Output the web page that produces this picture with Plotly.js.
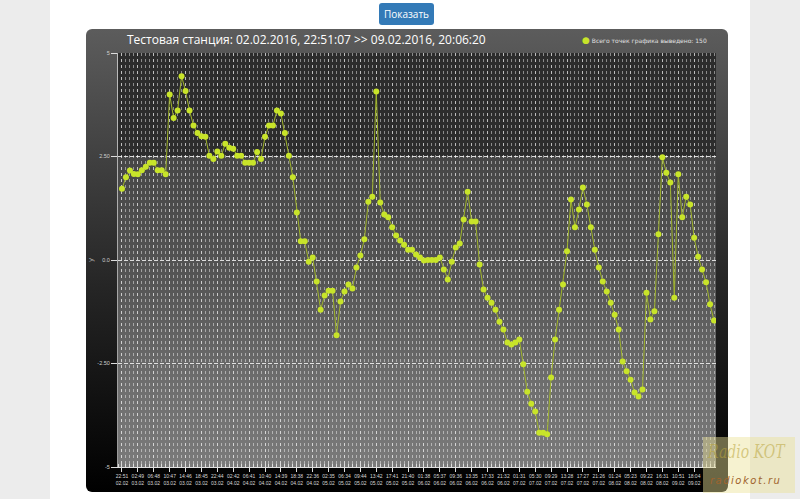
<!DOCTYPE html>
<html>
<head>
<meta charset="utf-8">
<script src="https://cdn.plot.ly/plotly-3.0.1.min.js"></script>
<style>
  html, body { margin:0; padding:0; width:800px; height:499px; overflow:hidden; }
  body { background:#ececec; position:relative; font-family:"Open Sans", "Liberation Sans", sans-serif; }
  #page { position:absolute; left:50px; top:0; width:700px; height:499px; background:#ffffff; }
  #btn { position:absolute; left:379px; top:3px; width:55px; height:22px; background:#337ab7; border-radius:3px;
         color:#fff; font-size:10px; line-height:22px; text-align:center; font-family:"Open Sans", sans-serif; }
  #box { position:absolute; left:86px; top:29px; width:642px; height:463px; border-radius:6px;
         background:linear-gradient(to bottom, #5c5c5c 0%, #262626 55%, #000 100%); }
  #plotbg { position:absolute; left:118px; top:53px; width:598px; height:414px;
         background:linear-gradient(to bottom, #2c2c2c 0%, #2c2c2c 25%, #464646 25%, #555 55%, #6e6e6e 80%, #7a7a7a 100%); }
  #chart { position:absolute; left:0; top:0; width:800px; height:499px; }
  #wm { position:absolute; left:703px; top:437px; width:92px; height:56px; background:rgba(236,226,150,0.45); overflow:hidden; }
  #wm .a { position:absolute; left:5px; top:4px; font-family:"DejaVu Serif", serif; font-style:italic; font-size:18px;
           color:rgba(185,165,60,0.55); transform:scaleX(0.78); transform-origin:left; white-space:nowrap; }
  #wm .b { position:absolute; left:7px; top:38px; font-family:"DejaVu Sans", sans-serif; font-style:italic; font-size:10px;
           color:#a0642e; letter-spacing:1.5px; white-space:nowrap; }
</style>
</head>
<body>
<div id="page"></div>
<div id="btn">Показать</div>
<div id="box"></div>
<div id="plotbg"></div>
<div id="chart"></div>
<div id="wm"><div class="a">Radio KOT</div><div class="b">radiokot.ru</div></div>
<script>
// ---- data ----
const titleText = 'Тестовая станция: 02.02.2016, 22:51:07 >> 09.02.2016, 20:06:20';
const legendText = 'Всего точек графика выведено: 150';
const yTitle = 'y';

const values = [
  1.72, 2.00, 2.16, 2.08, 2.07, 2.17, 2.25, 2.35, 2.35, 2.17,
  2.17, 2.07, 4.00, 3.43, 3.61, 4.44, 4.08, 3.61, 3.25, 3.07,
  2.99, 2.98, 2.52, 2.44, 2.62, 2.52, 2.81, 2.71, 2.69, 2.52,
  2.52, 2.35, 2.35, 2.35, 2.61, 2.44, 2.98, 3.25, 3.25, 3.61,
  3.54, 3.07, 2.52, 2.00, 1.15, 0.45, 0.45, -0.04, 0.06, -0.52,
  -1.20, -0.86, -0.74, -0.74, -1.82, -1.00, -0.76, -0.59, -0.69, -0.18,
  0.11, 0.50, 1.41, 1.53, 4.07, 1.39, 1.10, 1.03, 0.79, 0.59,
  0.47, 0.37, 0.25, 0.25, 0.13, 0.06, -0.01, 0.00, 0.00, 0.00,
  0.06, -0.23, -0.47, -0.04, 0.30, 0.40, 0.98, 1.65, 0.93, 0.93,
  -0.11, -0.71, -0.91, -1.03, -1.20, -1.49, -1.68, -1.99, -2.04, -1.99,
  -1.92, -2.52, -3.18, -3.47, -3.66, -4.17, -4.17, -4.21, -2.84, -1.92,
  -1.20, -0.59, 0.21, 1.46, 0.79, 1.22, 1.75, 1.34, 0.79, 0.25,
  -0.18, -0.52, -0.76, -1.03, -1.32, -1.68, -2.45, -2.69, -2.89, -3.20,
  -3.30, -3.13, -0.79, -1.44, -1.24, 0.62, 2.48, 2.11, 1.87, -0.91,
  2.07, 1.03, 1.53, 1.34, 0.54, 0.08, -0.23, -0.54, -1.07, -1.46
];

const tickTimes = [
  '22:51','02:49','06:48','10:47','14:46','18:45','22:44','02:42','06:41','10:40',
  '14:39','18:38','22:36','02:35','06:34','09:44','13:42','17:41','21:40','01:38',
  '05:37','09:36','13:35','17:33','21:32','01:31','05:30','09:29','13:28','17:27',
  '21:26','01:24','05:23','09:22','16:31','10:51','18:04'
];
const tickDates = [
  '02.02','03.02','03.02','03.02','03.02','03.02','03.02','04.02','04.02','04.02',
  '04.02','04.02','04.02','05.02','05.02','05.02','05.02','05.02','05.02','06.02',
  '06.02','06.02','06.02','06.02','06.02','07.02','07.02','07.02','07.02','07.02',
  '07.02','08.02','08.02','08.02','08.02','09.02','09.02'
];
const yTickVals = [-5, -2.5, 0, 2.5, 5];
const yTickText = ['-5', '-2.50', '0.0', '2.50', '5'];

// ---- build ----
const xIdx = values.map((v, i) => i);
const labelStep = 4;
const tickVals = tickTimes.map((t, k) => k * labelStep);
const tickText = tickTimes.map((t, k) => t + '<br>' + tickDates[k]);

const traces = [
  {
    x: xIdx, y: values, type: 'scatter', mode: 'lines+markers',
    line: { color: '#9fb42a', width: 1 },
    marker: { color: '#c8e42a', size: 6, line: { width: 0 } },
    showlegend: false, hoverinfo: 'x+y'
  }
];

const layout = {
  width: 800, height: 499,
  paper_bgcolor: 'rgba(0,0,0,0)', plot_bgcolor: 'rgba(0,0,0,0)',
  margin: { l: 118, r: 84, t: 53, b: 32, pad: 0 },
  showlegend: false,
  title: {
    text: titleText, xref: 'container', yref: 'container',
    x: 127 / 800, xanchor: 'left', y: 1 - 40 / 499, yanchor: 'middle',
    font: { family: 'Open Sans, sans-serif', size: 12, color: '#ffffff' }
  },
  xaxis: {
    range: [-1, 149.5], autorange: false, zeroline: false,
    tickmode: 'array', tickvals: tickVals, ticktext: tickText,
    tickfont: { family: 'Liberation Sans, Arial, sans-serif', size: 5, color: '#d8d8d8' },
    ticks: 'outside', ticklen: 4, tickcolor: '#dddddd', tickangle: 0,
    showgrid: true, gridcolor: 'rgba(255,255,255,0.45)', gridwidth: 1, griddash: '3px,3px',
    minor: { tickmode: 'linear', tick0: 0, dtick: 1, showgrid: true,
             gridcolor: 'rgba(255,255,255,0.45)', gridwidth: 1, griddash: '3px,3px',
             ticks: 'inside', ticklen: 3, tickcolor: '#dddddd' },
    showline: true, linecolor: '#e0e0e0', linewidth: 1
  },
  yaxis: {
    range: [-5, 5], autorange: false, zeroline: false,
    tickmode: 'array', tickvals: yTickVals, ticktext: yTickText,
    tickfont: { family: 'Liberation Sans, Arial, sans-serif', size: 5.5, color: '#cfcfcf' },
    ticks: 'outside', ticklen: 6, tickcolor: '#dddddd',
    showgrid: true, gridcolor: 'rgba(255,255,255,0.8)', gridwidth: 1, griddash: '4px,2px',
    showline: true, linecolor: 'rgba(255,255,255,0.6)', linewidth: 1,
    title: { text: yTitle, font: { family: 'DejaVu Sans, sans-serif', size: 7, color: '#b0b0b0' }, standoff: 2 }
  },
  annotations: [
    {
      xref: 'paper', yref: 'paper', x: (580 - 118) / 598, y: (467 - 40) / 414,
      xanchor: 'left', yanchor: 'middle', showarrow: false,
      text: '<span style="color:#c8e42a;font-size:9px">●</span> ' + legendText,
      font: { family: 'DejaVu Sans, sans-serif', size: 6, color: '#e0e0e0' }
    }
  ]
};

Plotly.newPlot('chart', traces, layout, { displayModeBar: false, staticPlot: true });
</script>
</body>
</html>
